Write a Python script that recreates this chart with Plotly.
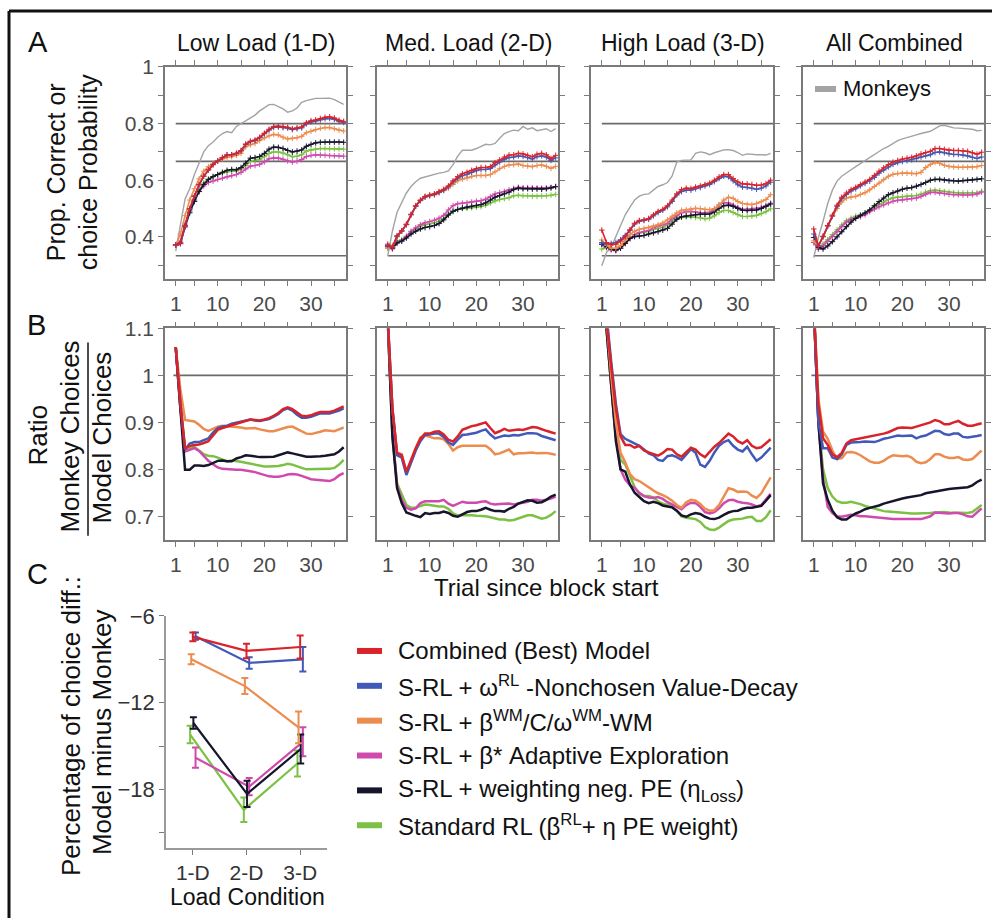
import plotly.graph_objects as go

W, H = 992, 918
FONT = "Liberation Sans, Arial, Helvetica, sans-serif"

# small vertical calibration of the page photograph (measured on earlier renders)
V_OFF, V_SCALE = 12.1, 0.9853

def px(x):
    return x / W

def py(y):
    return 1 - ((y - V_OFF) / V_SCALE) / H

trials = list(range(1, 38))

# ---------------- Panel A : proportion correct / choice probability ----------------
A1_monkey = [0.35,0.445,0.534,0.57,0.62,0.66,0.70,0.722,0.735,0.752,0.765,0.772,0.768,0.79,0.80,0.812,0.822,0.83,0.845,0.857,0.867,0.868,0.86,0.852,0.84,0.845,0.855,0.875,0.881,0.885,0.889,0.889,0.889,0.89,0.885,0.875,0.868]
A1_combined = [0.371,0.378,0.44,0.50,0.545,0.585,0.615,0.637,0.655,0.668,0.68,0.69,0.69,0.695,0.705,0.728,0.738,0.742,0.752,0.766,0.78,0.79,0.791,0.789,0.787,0.782,0.785,0.788,0.803,0.81,0.813,0.818,0.822,0.824,0.82,0.812,0.808]
A1_omega = [0.371,0.378,0.438,0.498,0.543,0.583,0.614,0.636,0.655,0.668,0.68,0.689,0.69,0.695,0.704,0.726,0.736,0.74,0.75,0.764,0.777,0.787,0.788,0.786,0.784,0.779,0.782,0.785,0.799,0.806,0.809,0.813,0.817,0.818,0.815,0.808,0.804]
A1_wm = [0.37,0.41,0.475,0.53,0.57,0.605,0.632,0.648,0.658,0.668,0.675,0.68,0.683,0.688,0.695,0.718,0.725,0.73,0.74,0.75,0.757,0.762,0.76,0.752,0.746,0.748,0.75,0.755,0.768,0.773,0.779,0.783,0.786,0.786,0.782,0.777,0.774]
A1_beta = [0.371,0.385,0.445,0.495,0.53,0.56,0.58,0.592,0.597,0.603,0.607,0.612,0.616,0.62,0.628,0.64,0.65,0.652,0.656,0.665,0.676,0.679,0.678,0.674,0.668,0.664,0.667,0.673,0.684,0.688,0.69,0.689,0.688,0.687,0.686,0.686,0.685]
A1_loss = [0.371,0.376,0.435,0.485,0.525,0.56,0.585,0.602,0.613,0.62,0.628,0.635,0.638,0.637,0.645,0.66,0.678,0.68,0.684,0.695,0.71,0.717,0.716,0.712,0.705,0.7,0.703,0.707,0.72,0.727,0.732,0.734,0.735,0.735,0.735,0.735,0.734]
A1_std = [0.371,0.38,0.44,0.49,0.53,0.565,0.59,0.605,0.612,0.62,0.625,0.63,0.632,0.633,0.64,0.652,0.668,0.67,0.674,0.683,0.695,0.7,0.7,0.696,0.69,0.683,0.685,0.69,0.703,0.707,0.71,0.712,0.712,0.711,0.711,0.711,0.71]

A2_monkey = [0.333,0.42,0.487,0.52,0.555,0.578,0.595,0.607,0.612,0.617,0.622,0.625,0.628,0.633,0.655,0.685,0.706,0.707,0.706,0.712,0.72,0.727,0.725,0.73,0.748,0.765,0.772,0.777,0.775,0.79,0.78,0.785,0.775,0.778,0.782,0.772,0.782]
A2_combined = [0.374,0.363,0.404,0.422,0.445,0.48,0.51,0.53,0.543,0.548,0.552,0.56,0.568,0.58,0.598,0.613,0.623,0.628,0.635,0.641,0.645,0.645,0.648,0.662,0.672,0.682,0.689,0.69,0.695,0.693,0.688,0.683,0.692,0.695,0.69,0.677,0.688]
A2_omega = [0.37,0.362,0.402,0.42,0.443,0.478,0.508,0.528,0.541,0.546,0.55,0.557,0.565,0.577,0.594,0.607,0.616,0.621,0.628,0.634,0.638,0.638,0.641,0.654,0.664,0.674,0.68,0.682,0.686,0.684,0.68,0.675,0.683,0.686,0.682,0.67,0.679]
A2_wm = [0.36,0.365,0.40,0.42,0.443,0.478,0.508,0.528,0.54,0.545,0.548,0.556,0.563,0.572,0.585,0.598,0.604,0.608,0.614,0.617,0.617,0.617,0.62,0.63,0.642,0.649,0.654,0.655,0.657,0.652,0.65,0.648,0.652,0.654,0.649,0.642,0.649]
A2_beta = [0.369,0.357,0.38,0.386,0.402,0.42,0.432,0.443,0.45,0.454,0.459,0.466,0.476,0.495,0.51,0.517,0.519,0.52,0.523,0.526,0.528,0.533,0.542,0.552,0.556,0.56,0.566,0.571,0.575,0.573,0.574,0.573,0.573,0.572,0.573,0.575,0.578]
A2_loss = [0.365,0.36,0.378,0.385,0.396,0.41,0.42,0.428,0.433,0.436,0.44,0.447,0.46,0.477,0.49,0.497,0.502,0.505,0.508,0.511,0.514,0.52,0.53,0.54,0.546,0.552,0.558,0.567,0.572,0.57,0.57,0.569,0.569,0.568,0.57,0.573,0.577]
A2_std = [0.36,0.37,0.385,0.39,0.402,0.418,0.428,0.438,0.443,0.446,0.45,0.455,0.465,0.48,0.492,0.497,0.5,0.501,0.503,0.505,0.507,0.512,0.52,0.527,0.532,0.535,0.538,0.545,0.547,0.545,0.545,0.543,0.543,0.544,0.545,0.547,0.55]

A3_monkey = [0.298,0.345,0.363,0.40,0.44,0.478,0.505,0.53,0.544,0.55,0.552,0.566,0.578,0.584,0.592,0.615,0.664,0.67,0.67,0.672,0.695,0.70,0.697,0.69,0.697,0.702,0.707,0.708,0.705,0.698,0.688,0.693,0.691,0.69,0.69,0.689,0.695]
A3_combined = [0.424,0.38,0.372,0.374,0.385,0.40,0.425,0.448,0.458,0.46,0.465,0.478,0.49,0.497,0.51,0.53,0.552,0.567,0.572,0.571,0.576,0.58,0.585,0.59,0.60,0.612,0.62,0.62,0.606,0.594,0.587,0.587,0.585,0.582,0.583,0.588,0.60]
A3_omega = [0.38,0.375,0.377,0.38,0.39,0.405,0.423,0.445,0.455,0.458,0.462,0.474,0.486,0.494,0.506,0.525,0.548,0.56,0.565,0.565,0.57,0.574,0.58,0.585,0.595,0.606,0.614,0.612,0.598,0.584,0.576,0.575,0.572,0.568,0.572,0.58,0.593]
A3_wm = [0.389,0.37,0.36,0.36,0.37,0.39,0.408,0.42,0.427,0.43,0.433,0.438,0.443,0.449,0.46,0.473,0.485,0.494,0.495,0.498,0.501,0.50,0.497,0.496,0.50,0.512,0.53,0.54,0.536,0.525,0.518,0.515,0.514,0.518,0.524,0.532,0.549]
A3_beta = [0.374,0.363,0.354,0.351,0.36,0.377,0.395,0.408,0.415,0.419,0.423,0.431,0.438,0.442,0.448,0.465,0.476,0.485,0.489,0.49,0.488,0.485,0.485,0.487,0.497,0.513,0.521,0.52,0.512,0.503,0.497,0.497,0.499,0.50,0.504,0.51,0.519]
A3_loss = [0.374,0.365,0.357,0.353,0.36,0.377,0.394,0.401,0.403,0.405,0.41,0.414,0.418,0.424,0.43,0.445,0.462,0.471,0.474,0.476,0.478,0.48,0.48,0.481,0.488,0.501,0.51,0.512,0.508,0.50,0.494,0.493,0.494,0.495,0.50,0.507,0.516]
A3_std = [0.357,0.362,0.359,0.357,0.365,0.38,0.396,0.408,0.414,0.416,0.42,0.426,0.43,0.434,0.442,0.458,0.467,0.469,0.471,0.471,0.469,0.467,0.464,0.466,0.474,0.486,0.493,0.493,0.486,0.478,0.472,0.472,0.473,0.476,0.482,0.489,0.499]

A4_monkey = [0.327,0.398,0.455,0.518,0.565,0.597,0.614,0.627,0.637,0.648,0.659,0.669,0.678,0.69,0.702,0.712,0.72,0.73,0.74,0.746,0.75,0.756,0.76,0.765,0.768,0.773,0.782,0.792,0.794,0.79,0.785,0.784,0.782,0.781,0.78,0.775,0.776]
A4_combined = [0.428,0.369,0.402,0.44,0.477,0.512,0.54,0.555,0.567,0.575,0.585,0.594,0.603,0.617,0.632,0.644,0.655,0.664,0.67,0.675,0.678,0.681,0.686,0.693,0.698,0.702,0.712,0.712,0.709,0.706,0.705,0.705,0.704,0.702,0.697,0.692,0.699]
A4_omega = [0.41,0.367,0.40,0.438,0.474,0.508,0.535,0.55,0.562,0.57,0.58,0.589,0.597,0.61,0.625,0.636,0.647,0.656,0.662,0.666,0.669,0.672,0.676,0.682,0.686,0.69,0.698,0.70,0.697,0.693,0.691,0.691,0.689,0.686,0.681,0.677,0.682]
A4_wm = [0.386,0.369,0.402,0.44,0.472,0.50,0.523,0.537,0.541,0.543,0.55,0.556,0.566,0.578,0.59,0.602,0.614,0.621,0.624,0.625,0.625,0.625,0.623,0.628,0.645,0.656,0.663,0.66,0.653,0.649,0.647,0.646,0.646,0.646,0.646,0.648,0.652]
A4_beta = [0.38,0.357,0.368,0.384,0.401,0.418,0.436,0.452,0.461,0.467,0.471,0.478,0.489,0.498,0.506,0.513,0.52,0.526,0.529,0.53,0.533,0.535,0.537,0.543,0.551,0.557,0.557,0.555,0.553,0.55,0.549,0.549,0.548,0.548,0.549,0.551,0.558]
A4_loss = [0.398,0.363,0.357,0.368,0.383,0.40,0.418,0.436,0.452,0.465,0.476,0.484,0.495,0.51,0.525,0.537,0.549,0.556,0.562,0.568,0.572,0.574,0.579,0.585,0.592,0.60,0.603,0.603,0.601,0.598,0.598,0.597,0.599,0.60,0.601,0.603,0.605]
A4_std = [0.38,0.357,0.375,0.39,0.408,0.425,0.442,0.457,0.466,0.473,0.477,0.484,0.495,0.505,0.514,0.523,0.532,0.538,0.541,0.542,0.544,0.545,0.546,0.551,0.558,0.564,0.565,0.563,0.56,0.558,0.556,0.555,0.555,0.555,0.555,0.556,0.561]

# ---------------- Panel B : ratio monkey / model choices ----------------
B1_combined = [1.06,0.94,0.845,0.85,0.852,0.853,0.856,0.86,0.872,0.884,0.888,0.891,0.894,0.897,0.90,0.902,0.906,0.905,0.904,0.906,0.909,0.914,0.92,0.928,0.932,0.928,0.92,0.914,0.913,0.915,0.919,0.922,0.922,0.922,0.925,0.929,0.934]
B1_omega = [1.06,0.94,0.842,0.855,0.858,0.858,0.862,0.866,0.878,0.888,0.891,0.893,0.897,0.899,0.901,0.903,0.906,0.904,0.903,0.905,0.907,0.912,0.918,0.926,0.93,0.925,0.916,0.91,0.91,0.912,0.916,0.919,0.919,0.919,0.922,0.925,0.93]
B1_wm = [1.06,0.97,0.905,0.904,0.902,0.895,0.886,0.882,0.886,0.891,0.893,0.892,0.892,0.891,0.889,0.887,0.888,0.888,0.885,0.883,0.881,0.881,0.884,0.886,0.89,0.891,0.886,0.88,0.876,0.875,0.877,0.88,0.883,0.882,0.881,0.885,0.889]
B1_beta = [1.06,0.93,0.838,0.842,0.845,0.839,0.828,0.818,0.811,0.804,0.801,0.80,0.80,0.799,0.799,0.798,0.796,0.794,0.791,0.787,0.785,0.784,0.784,0.786,0.789,0.79,0.789,0.786,0.782,0.779,0.778,0.777,0.775,0.775,0.779,0.787,0.792]
B1_loss = [1.06,0.92,0.799,0.799,0.808,0.808,0.807,0.809,0.813,0.818,0.819,0.817,0.817,0.823,0.826,0.83,0.829,0.827,0.826,0.826,0.826,0.827,0.83,0.833,0.836,0.834,0.832,0.829,0.827,0.827,0.827,0.828,0.829,0.83,0.832,0.838,0.847]
B1_std = [1.06,0.93,0.839,0.845,0.848,0.84,0.832,0.829,0.828,0.825,0.821,0.817,0.819,0.818,0.816,0.814,0.812,0.809,0.807,0.806,0.806,0.806,0.807,0.809,0.812,0.81,0.806,0.803,0.80,0.80,0.80,0.80,0.80,0.801,0.803,0.81,0.82]

B2_combined = [1.12,0.93,0.835,0.83,0.795,0.82,0.845,0.865,0.876,0.876,0.88,0.881,0.874,0.863,0.859,0.87,0.884,0.888,0.892,0.894,0.897,0.90,0.888,0.877,0.881,0.886,0.882,0.884,0.885,0.884,0.887,0.89,0.889,0.885,0.882,0.879,0.876]
B2_omega = [1.12,0.93,0.83,0.825,0.788,0.815,0.84,0.86,0.873,0.874,0.876,0.876,0.869,0.857,0.852,0.863,0.873,0.874,0.876,0.878,0.882,0.885,0.874,0.866,0.869,0.872,0.871,0.873,0.872,0.875,0.877,0.877,0.876,0.871,0.868,0.866,0.862]
B2_wm = [1.12,0.93,0.835,0.832,0.792,0.82,0.845,0.868,0.872,0.869,0.866,0.866,0.864,0.854,0.84,0.847,0.85,0.85,0.85,0.85,0.85,0.85,0.843,0.832,0.834,0.838,0.842,0.832,0.834,0.834,0.835,0.836,0.834,0.834,0.835,0.833,0.831]
B2_beta = [1.12,0.88,0.765,0.735,0.718,0.714,0.717,0.728,0.732,0.732,0.732,0.732,0.735,0.727,0.722,0.726,0.731,0.729,0.729,0.729,0.731,0.732,0.727,0.725,0.726,0.727,0.727,0.725,0.727,0.728,0.731,0.735,0.735,0.733,0.735,0.738,0.742]
B2_loss = [1.12,0.87,0.76,0.728,0.708,0.704,0.701,0.698,0.707,0.705,0.707,0.707,0.71,0.707,0.701,0.699,0.704,0.709,0.711,0.711,0.714,0.718,0.714,0.711,0.711,0.71,0.716,0.72,0.727,0.731,0.734,0.733,0.729,0.73,0.735,0.742,0.746]
B2_std = [1.12,0.87,0.77,0.748,0.724,0.718,0.718,0.722,0.725,0.724,0.722,0.721,0.721,0.716,0.706,0.702,0.703,0.703,0.702,0.701,0.701,0.70,0.698,0.695,0.693,0.693,0.691,0.692,0.695,0.698,0.702,0.702,0.699,0.695,0.697,0.703,0.711]

B3_combined = [1.3,1.12,1.02,0.93,0.87,0.852,0.852,0.846,0.85,0.84,0.836,0.832,0.829,0.835,0.843,0.842,0.832,0.827,0.836,0.846,0.842,0.832,0.826,0.838,0.848,0.856,0.867,0.876,0.87,0.86,0.855,0.862,0.85,0.845,0.847,0.855,0.864]
B3_omega = [1.3,1.13,1.03,0.94,0.875,0.865,0.86,0.855,0.85,0.842,0.834,0.83,0.82,0.818,0.828,0.83,0.826,0.82,0.832,0.843,0.835,0.81,0.805,0.818,0.836,0.85,0.858,0.862,0.85,0.842,0.838,0.848,0.832,0.818,0.825,0.835,0.846]
B3_wm = [1.3,1.12,1.0,0.9,0.835,0.815,0.79,0.779,0.775,0.769,0.762,0.755,0.749,0.745,0.74,0.733,0.724,0.718,0.73,0.735,0.733,0.726,0.716,0.712,0.713,0.724,0.743,0.76,0.757,0.752,0.753,0.752,0.744,0.739,0.749,0.766,0.783]
B3_beta = [1.3,1.1,0.98,0.87,0.80,0.778,0.766,0.761,0.75,0.743,0.74,0.739,0.741,0.737,0.73,0.725,0.72,0.715,0.724,0.729,0.728,0.72,0.709,0.706,0.709,0.717,0.728,0.734,0.735,0.731,0.729,0.728,0.725,0.721,0.724,0.737,0.748]
B3_loss = [1.3,1.1,0.98,0.86,0.80,0.795,0.768,0.75,0.741,0.732,0.728,0.731,0.728,0.723,0.721,0.719,0.712,0.702,0.699,0.704,0.707,0.705,0.699,0.695,0.694,0.697,0.703,0.708,0.711,0.712,0.716,0.718,0.718,0.72,0.722,0.733,0.745]
B3_std = [1.3,1.1,0.98,0.87,0.82,0.81,0.787,0.762,0.748,0.743,0.743,0.74,0.732,0.727,0.724,0.72,0.711,0.70,0.697,0.695,0.694,0.688,0.677,0.672,0.671,0.676,0.684,0.69,0.693,0.694,0.695,0.698,0.699,0.69,0.69,0.698,0.713]

B4_combined = [1.15,0.94,0.866,0.852,0.832,0.826,0.835,0.855,0.862,0.864,0.866,0.868,0.869,0.871,0.873,0.876,0.879,0.883,0.888,0.889,0.888,0.888,0.891,0.894,0.896,0.90,0.905,0.902,0.896,0.896,0.90,0.903,0.897,0.893,0.893,0.895,0.898]
B4_omega = [1.15,0.90,0.845,0.845,0.825,0.822,0.832,0.852,0.857,0.857,0.858,0.859,0.859,0.858,0.861,0.865,0.867,0.869,0.872,0.871,0.871,0.872,0.866,0.87,0.872,0.877,0.882,0.881,0.875,0.873,0.876,0.876,0.869,0.868,0.869,0.871,0.873]
B4_wm = [1.15,0.95,0.88,0.865,0.84,0.822,0.824,0.836,0.837,0.835,0.83,0.824,0.817,0.814,0.814,0.818,0.825,0.83,0.829,0.828,0.829,0.825,0.816,0.813,0.815,0.822,0.832,0.832,0.827,0.824,0.824,0.826,0.821,0.82,0.822,0.832,0.84]
B4_beta = [1.15,0.90,0.78,0.72,0.707,0.70,0.699,0.701,0.703,0.702,0.70,0.70,0.699,0.698,0.697,0.695,0.695,0.694,0.694,0.694,0.694,0.694,0.694,0.694,0.697,0.70,0.708,0.707,0.706,0.706,0.707,0.707,0.704,0.70,0.699,0.707,0.717]
B4_loss = [1.15,0.90,0.77,0.735,0.712,0.698,0.693,0.693,0.70,0.706,0.71,0.715,0.718,0.72,0.723,0.727,0.73,0.733,0.735,0.738,0.74,0.742,0.744,0.745,0.749,0.751,0.753,0.755,0.756,0.758,0.759,0.76,0.761,0.762,0.766,0.773,0.778]
B4_std = [1.15,0.90,0.80,0.76,0.742,0.732,0.729,0.729,0.731,0.729,0.726,0.722,0.719,0.716,0.713,0.711,0.71,0.709,0.708,0.708,0.707,0.706,0.706,0.706,0.706,0.707,0.708,0.709,0.709,0.708,0.708,0.708,0.707,0.707,0.709,0.716,0.724]

# ---------------- Panel C : percentage choice difference ----------------
C_conditions = ["1-D", "2-D", "3-D"]
C_combined = [-7.45, -8.42, -8.15]
C_combined_err = [0.3, 0.5, 0.8]
C_omega = [-7.4, -9.25, -9.0]
C_omega_err = [0.25, 0.4, 0.85]
C_wm = [-9.0, -10.85, -13.7]
C_wm_err = [0.35, 0.55, 1.1]
C_beta = [-15.8, -17.8, -14.7]
C_beta_err = [0.7, 0.6, 1.0]
C_loss = [-13.4, -18.3, -15.2]
C_loss_err = [0.4, 0.9, 1.0]
C_std = [-14.2, -19.4, -16.2]
C_std_err = [0.6, 0.85, 0.9]

panel_titles = ["Low Load (1-D)", "Med. Load (2-D)", "High Load (3-D)", "All Combined"]
ref_lines_A = [0.8, 2 / 3, 1 / 3]
ref_lines_B = [1.0]
x_major = [1, 10, 20, 30]
x_minor = [5, 15, 25, 35]
yA_major = [0.4, 0.6, 0.8, 1.0]
yA_labels = ["0.4", "0.6", "0.8", "1"]
yA_minor = [0.3, 0.5, 0.7, 0.9]
yB_major = [0.7, 0.8, 0.9, 1.0, 1.1]
yB_labels = ["0.7", "0.8", "0.9", "1", "1.1"]
yC_major = [-6, -12, -18]
yC_labels = ["−6", "−12", "−18"]
yC_minor = [-9, -15, -21]

model_labels = [
    "Combined (Best) Model",
    "S-RL + ω<sup>RL</sup> -Nonchosen Value-Decay",
    "S-RL + β<sup>WM</sup>/C/ω<sup>WM</sup>-WM",
    "S-RL + β* Adaptive Exploration",
    "S-RL + weighting neg. PE (η<sub>Loss</sub>)",
    "Standard RL (β<sup>RL</sup>+ η PE weight)",
]
model_colors = ["#d8232a", "#4159b8", "#ec8c4e", "#d04aae", "#15162c", "#7cc143"]
monkey_color = "#a3a3a3"
ref_color = "#6b6b6b"
axis_color = "#7a7a7a"

A_data = [
    (A1_monkey, [A1_combined, A1_omega, A1_wm, A1_beta, A1_loss, A1_std]),
    (A2_monkey, [A2_combined, A2_omega, A2_wm, A2_beta, A2_loss, A2_std]),
    (A3_monkey, [A3_combined, A3_omega, A3_wm, A3_beta, A3_loss, A3_std]),
    (A4_monkey, [A4_combined, A4_omega, A4_wm, A4_beta, A4_loss, A4_std]),
]
B_data = [
    [B1_combined, B1_omega, B1_wm, B1_beta, B1_loss, B1_std],
    [B2_combined, B2_omega, B2_wm, B2_beta, B2_loss, B2_std],
    [B3_combined, B3_omega, B3_wm, B3_beta, B3_loss, B3_std],
    [B4_combined, B4_omega, B4_wm, B4_beta, B4_loss, B4_std],
]
C_means = [C_combined, C_omega, C_wm, C_beta, C_loss, C_std]
C_errs = [C_combined_err, C_omega_err, C_wm_err, C_beta_err, C_loss_err, C_std_err]
C_dodge = [0.0, 0.05, -0.03, 0.05, 0.01, -0.05]
draw_order = [5, 3, 4, 2, 1, 0]  # green, pink, black, orange, blue, red (red on top)

fig = go.Figure()

col_x = [(165, 346), (377, 558), (591, 773), (803, 984)]
rowA_y = (67, 279)
rowB_y = (328, 539)
X_RANGE = [-1.3, 37.5]

tickfont = dict(family=FONT, size=21, color="#4a4a4a")
common = dict(showline=True, linecolor=axis_color, linewidth=1.5, ticks="outside",
              ticklen=5, tickwidth=1.3, tickcolor=axis_color, showgrid=False,
              zeroline=False, tickfont=tickfont)

def minor(vals):
    return dict(tickmode="array", tickvals=vals, ticks="outside", ticklen=5,
                tickwidth=1.3, tickcolor=axis_color, showgrid=False)

layout_axes = {}
for i in range(4):
    a = i + 1      # row A axis number
    b = i + 5      # row B axis number
    x0, x1 = col_x[i]
    for n, (y0, y1) in ((a, rowA_y), (b, rowB_y)):
        layout_axes[f"xaxis{n}"] = dict(common, domain=[px(x0), px(x1)], range=X_RANGE,
                                        tickmode="array", tickvals=x_major,
                                        minor=minor(x_minor),
                                        mirror="allticks", anchor=f"y{n}")
    layout_axes[f"yaxis{a}"] = dict(common, domain=[py(rowA_y[1]), py(rowA_y[0])],
                                    range=[0.25, 1.0], tickmode="array",
                                    tickvals=yA_major, ticktext=yA_labels,
                                    minor=minor(yA_minor), showticklabels=(i == 0),
                                    mirror="allticks", anchor=f"x{a}")
    layout_axes[f"yaxis{b}"] = dict(common, domain=[py(rowB_y[1]), py(rowB_y[0])],
                                    range=[0.65, 1.1], tickmode="array",
                                    tickvals=yB_major, ticktext=yB_labels,
                                    showticklabels=(i == 0),
                                    mirror="allticks", anchor=f"x{b}")

    # reference lines
    for r in ref_lines_A:
        fig.add_trace(go.Scatter(x=[1, X_RANGE[1]], y=[r, r], mode="lines",
                                 line=dict(color=ref_color, width=1.6),
                                 xaxis=f"x{a}", yaxis=f"y{a}", showlegend=False, hoverinfo="skip"))
    for r in ref_lines_B:
        fig.add_trace(go.Scatter(x=[0.5, X_RANGE[1]], y=[r, r], mode="lines",
                                 line=dict(color=ref_color, width=1.6),
                                 xaxis=f"x{b}", yaxis=f"y{b}", showlegend=False, hoverinfo="skip"))

    monkey, models = A_data[i]
    fig.add_trace(go.Scatter(x=trials, y=monkey, mode="lines",
                             line=dict(color=monkey_color, width=1.4),
                             xaxis=f"x{a}", yaxis=f"y{a}", showlegend=False))
    for k in draw_order:
        fig.add_trace(go.Scatter(x=trials, y=models[k], mode="lines+markers",
                                 line=dict(color=model_colors[k], width=1.6),
                                 marker=dict(symbol="cross-thin", size=4,
                                             line=dict(color=model_colors[k], width=1)),
                                 xaxis=f"x{a}", yaxis=f"y{a}", showlegend=False))
        fig.add_trace(go.Scatter(x=trials, y=B_data[i][k], mode="lines",
                                 line=dict(color=model_colors[k], width=2.5),
                                 xaxis=f"x{b}", yaxis=f"y{b}", showlegend=False))

# Panel C axes
layout_axes["xaxis9"] = dict(common, domain=[px(166), px(327)], range=[-0.5, 2.5],
                             tickmode="array", tickvals=[0, 1, 2], ticktext=C_conditions,
                             tickfont=dict(family=FONT, size=21, color="#333"),
                             anchor="y9", linecolor="#9a9a9a")
layout_axes["yaxis9"] = dict(common, domain=[py(847), py(615)], range=[-22.06, -6],
                             tickmode="array", tickvals=yC_major, ticktext=yC_labels,
                             minor=minor(yC_minor),
                             tickfont=dict(family=FONT, size=22, color="#333"),
                             anchor="x9", linecolor="#9a9a9a")

for k in draw_order:
    fig.add_trace(go.Scatter(
        x=[j + C_dodge[k] for j in range(len(C_conditions))], y=C_means[k],
        mode="lines", line=dict(color=model_colors[k], width=2.2),
        error_y=dict(type="data", array=C_errs[k], visible=True,
                     color=model_colors[k], thickness=2, width=3.5),
        xaxis="x9", yaxis="y9", showlegend=False))

annotations = []
def text(x, y, s, size, angle=0, xanchor="center", color="#111"):
    annotations.append(dict(x=px(x), y=py(y), xref="paper", yref="paper", text=s,
                            showarrow=False, textangle=angle, xanchor=xanchor,
                            yanchor="middle", font=dict(family=FONT, size=size, color=color)))

# panel letters
text(38, 42, "A", 29)
text(36, 325, "B", 29)
text(37, 573, "C", 29)

# column titles
for (x0, x1), t in zip(col_x, panel_titles):
    text((x0 + x1) / 2 + 1, 43, t, 23)

# axis titles
text(56, 172, "Prop. Correct or", 25, angle=-90)
text(88, 172, "choice Probability", 25, angle=-90)
text(38, 435, "Ratio", 26, angle=-90)
text(70, 436, "Monkey Choices", 26, angle=-90)
text(102, 437, "Model Choices", 26, angle=-90)
text(546, 587, "Trial since block start", 24)
text(71, 725, "Percentage of choice diff.:", 26, angle=-90)
text(102, 731, "Model minus Monkey", 26, angle=-90)
text(247, 896, "Load Condition", 23)

shapes = []
# fraction bar
shapes.append(dict(type="line", xref="paper", yref="paper", x0=px(88), x1=px(88),
                   y0=py(342), y1=py(535), line=dict(color="#111", width=1.5)))
# figure border (left and top)
shapes.append(dict(type="line", xref="paper", yref="paper", x0=px(9), x1=px(9),
                   y0=py(11), y1=py(940), line=dict(color="#111", width=3)))
shapes.append(dict(type="line", xref="paper", yref="paper", x0=px(9), x1=px(1000),
                   y0=py(11), y1=py(11), line=dict(color="#111", width=3)))

# Monkeys legend (panel A4)
shapes.append(dict(type="line", xref="paper", yref="paper", x0=px(815), x1=px(836),
                   y0=py(89), y1=py(89), line=dict(color=monkey_color, width=6)))
text(841, 88, "Monkeys", 22, xanchor="left")

# model legend
for k, (lab, colr) in enumerate(zip(model_labels, model_colors)):
    yy = 650 + 34.8 * k
    shapes.append(dict(type="line", xref="paper", yref="paper", x0=px(357), x1=px(382),
                       y0=py(yy), y1=py(yy), line=dict(color=colr, width=6)))
    text(396, yy, lab, 24, xanchor="left")

fig.update_layout(
    width=W, height=H, margin=dict(l=0, r=0, t=0, b=0),
    paper_bgcolor="white", plot_bgcolor="white",
    annotations=annotations, shapes=shapes, showlegend=False,
    font=dict(family=FONT),
    **layout_axes,
)

fig.write_html(
    "out.html",
    config={"displayModeBar": False},
    post_script=(
        "document.body.style.margin='0';"
        "document.body.style.overflow='hidden';"
    ),
)
